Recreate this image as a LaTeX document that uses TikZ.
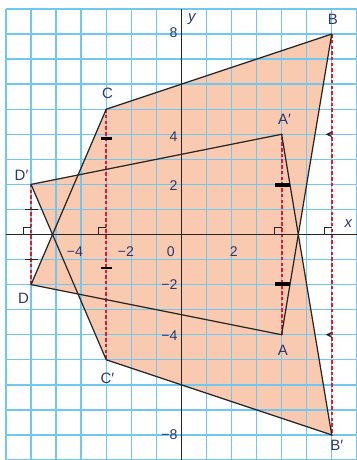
\documentclass[tikz,border=0pt]{standalone}
\usepackage{fontspec}
\setmainfont{Liberation Sans}
\begin{document}
\begin{tikzpicture}
\definecolor{gridc}{RGB}{110,200,240}
\definecolor{peach}{RGB}{250,202,176}
\definecolor{dashred}{RGB}{230,25,40}
\definecolor{navy}{RGB}{45,55,110}
\tikzset{
  gridline/.style={gridc, line width=1.6pt},
  axisline/.style={black!85, line width=1.2pt},
  outline/.style={black!85, line width=1.4pt, line join=round},
  redline/.style={dashred, line width=2.1pt, dash pattern=on 4pt off 2.5pt},
  vlabel/.style={text=navy, font=\fontsize{17}{19}\selectfont, inner sep=0pt},
  nlabel/.style={text=navy, font=\fontsize{16}{18}\selectfont, inner sep=0pt},
  thintick/.style={black!85, line width=1.1pt},
  thicktick/.style={black, line width=3pt},
  boldtick/.style={black, line width=5pt},
  rightmark/.style={black!85, line width=1pt}
}
\useasboundingbox (-7.24,-9) rectangle (7,9.36);
% vertices
\coordinate (A) at (4,-4);
\coordinate (B) at (6,8);
\coordinate (C) at (-3,5);
\coordinate (D) at (-6,-2);
\coordinate (Ap) at (4,4);
\coordinate (Bp) at (6,-8);
\coordinate (Cp) at (-3,-5);
\coordinate (Dp) at (-6,2);
% fills
\fill[peach] (A) -- (B) -- (C) -- (D) -- cycle;
\fill[peach] (Ap) -- (Bp) -- (Cp) -- (Dp) -- cycle;
% grid
\draw[gridline] (-7,-9) grid (7,9);
% red dashed lines
\draw[redline] (D) -- (Dp);
\draw[redline] (C) -- (Cp);
\draw[redline] (A) -- (Ap);
\draw[redline] (B) -- (Bp);
% axes
\coordinate (xl) at (-7,0);
\coordinate (xr) at (7,0);
\coordinate (yb) at (0,-9);
\coordinate (yt) at (0,9);
\draw[axisline] (xl) -- (xr);
\draw[axisline] (yb) -- (yt);
% right angle marks
\foreach \xx in {-6,-3,4,6}{
  \draw[rightmark] (\xx-0.3,0) -- (\xx-0.3,0.3) -- (\xx,0.3);
}
% outlines
\draw[outline] (A) -- (B) -- (C) -- (D) -- cycle;
\draw[outline] (Ap) -- (Bp) -- (Cp) -- (Dp) -- cycle;
% tick marks on segments
\draw[thintick] (-6.26,1) -- (-5.74,1);
\draw[thintick] (-6.26,-1) -- (-5.74,-1);
\draw[thicktick] (-3.2,3.83) -- (-2.75,3.83);
\draw[thicktick] (-3.2,-1.34) -- (-2.75,-1.34);
\draw[boldtick] (3.75,1.98) -- (4.32,1.98);
\draw[boldtick] (3.75,-1.98) -- (4.32,-1.98);
\fill[black!85] (5.76,4) -- (6.03,4.13) -- (5.93,4) -- (6.03,3.87) -- cycle;
\fill[black!85] (5.76,-4) -- (6.03,-3.87) -- (5.93,-4) -- (6.03,-4.13) -- cycle;
% vertex labels
\node[vlabel] (lC) at (-2.95,5.65) {C};
\node[vlabel] (lB) at (6.05,8.58) {B};
\node[vlabel] (lAp) at (4.12,4.58) {A′};
\node[vlabel] (lDp) at (-6.38,2.38) {D′};
\node[vlabel] (lD) at (-6.3,-2.56) {D};
\node[vlabel] (lCp) at (-2.95,-5.74) {C′};
\node[vlabel] (lA) at (4.05,-4.62) {A};
\node[vlabel] (lBp) at (6.2,-8.41) {B′};
% axis labels
\node[vlabel, font=\fontsize{17}{19}\selectfont\itshape] (lx) at (6.66,0.45) {x};
\node[vlabel, font=\fontsize{17}{19}\selectfont\itshape] (ly) at (0.42,8.6) {y};
% number labels
\node[nlabel, anchor=east] (n8) at (-0.15,8.07) {8};
\node[nlabel, anchor=east] (n4) at (-0.15,3.92) {4};
\node[nlabel, anchor=east] (n2) at (-0.15,1.96) {2};
\node[nlabel, anchor=east] (nm2) at (-0.15,-1.99) {−2};
\node[nlabel, anchor=east] (nm4) at (-0.15,-4.03) {−4};
\node[nlabel, anchor=east] (nm8) at (-0.15,-8.0) {−8};
\node[nlabel] (xm4) at (-4.25,-0.67) {−4};
\node[nlabel] (xm2) at (-2.21,-0.67) {−2};
\node[nlabel] (x0) at (-0.42,-0.67) {0};
\node[nlabel] (x2) at (2.09,-0.67) {2};
\end{tikzpicture}
\end{document}
